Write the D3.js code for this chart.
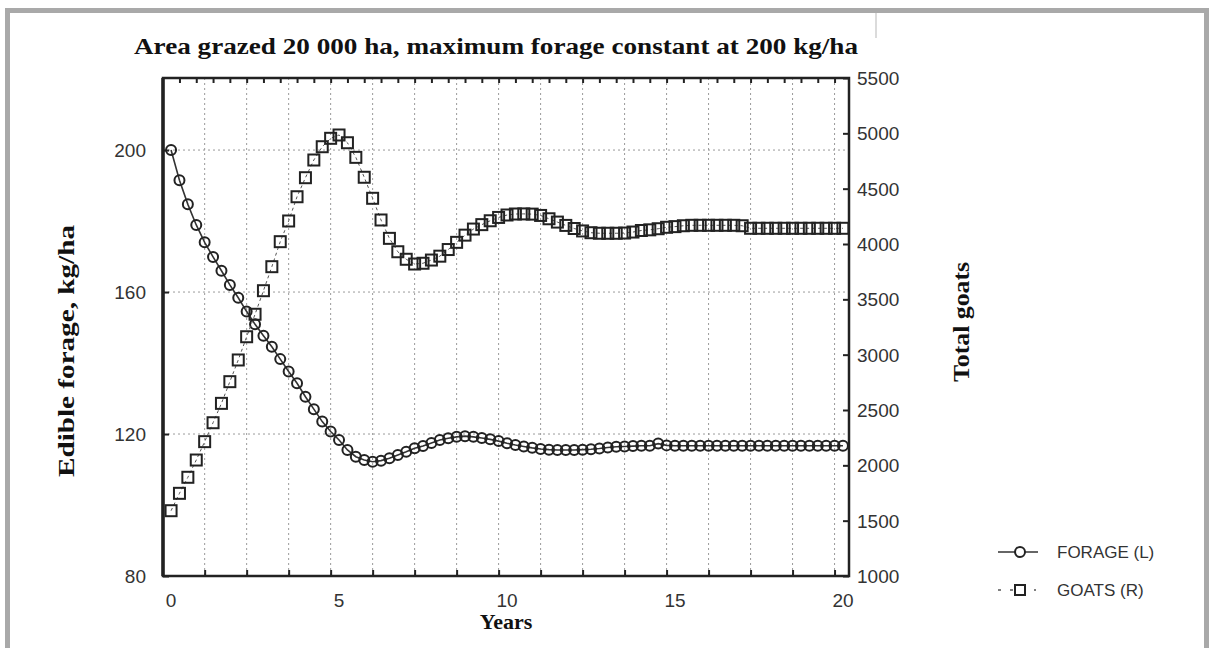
<!DOCTYPE html>
<html>
<head>
<meta charset="utf-8">
<script src="https://cdn.jsdelivr.net/npm/d3@7"></script>
<style>
  html, body { margin: 0; padding: 0; background: #fff; }
  svg { display: block; }
</style>
</head>
<body>
<svg id="chart" width="1212" height="648"></svg>
<script>
// ---------------- data ----------------
const years = [0,0.25,0.5,0.75,1,1.25,1.5,1.75,2,2.25,2.5,2.75,3,3.25,3.5,3.75,4,4.25,4.5,4.75,
  5,5.25,5.5,5.75,6,6.25,6.5,6.75,7,7.25,7.5,7.75,8,8.25,8.5,8.75,9,9.25,9.5,9.75,
  10,10.25,10.5,10.75,11,11.25,11.5,11.75,12,12.25,12.5,12.75,13,13.25,13.5,13.75,14,14.25,14.5,14.75,
  15,15.25,15.5,15.75,16,16.25,16.5,16.75,17,17.25,17.5,17.75,18,18.25,18.5,18.75,19,19.25,19.5,19.75,20];

const forage = [200.0,191.5,184.7,178.9,174.0,169.9,166.0,162.0,158.4,154.5,150.9,147.7,144.6,141.1,137.6,134.3,
  130.5,127.0,123.5,120.7,118.3,115.5,113.6,112.7,112.2,112.5,113.2,114.1,115.0,116.0,116.6,117.5,
  118.3,118.8,119.2,119.4,119.2,118.9,118.5,118.0,117.4,116.9,116.5,116.1,115.8,115.6,115.5,115.5,
  115.5,115.6,115.7,115.9,116.2,116.4,116.5,116.6,116.7,116.7,117.3,116.8,
  116.7,116.7,116.7,116.7,116.7,116.7,116.7,116.7,116.7,116.7,116.7,116.7,116.7,116.7,116.7,116.7,
  116.7,116.7,116.7,116.7,116.7];

const goats = [1590,1747,1892,2048,2214,2385,2560,2756,2952,3162,3365,3578,3795,4021,4208,4427,
  4599,4759,4879,4955,4985,4915,4783,4603,4413,4217,4051,3930,3862,3819,3826,3855,
  3890,3950,4015,4080,4135,4175,4210,4240,4262,4271,4272,4270,4258,4228,4198,4168,
  4140,4118,4102,4097,4097,4097,4099,4108,4122,4128,4138,4151,4157,4165,4169,4169,
  4169,4169,4169,4169,4165,4142,4142,4142,4142,4142,4142,4142,4142,4142,4142,4142,4142];

const xTickLabels = [0, 5, 10, 15, 20];
const xGridYears = [1,2.25,3.5,4.75,6,7.25,8.5,9.75,11,12.25,13.5,14.75,16,17.25,18.5,19.75];
const xMinorTop = [0.25,0.75,1.25,1.75,2.25,2.75,3.25,3.75,4.25,4.75,5.25,5.75,6.25,6.75,7.25,7.75,
  8.25,8.75,9.25,9.75,10.25,10.75,11.25,11.75,12.25,12.75,13.25,13.75,14.25,14.75,15.25,15.75,
  16.25,16.75,17.25,17.75,18.25,18.75,19.25,19.75];
const leftTicks = [80, 120, 160, 200];
const leftGrid = [120, 160, 200];
const rightTicks = [1000,1500,2000,2500,3000,3500,4000,4500,5000,5500];

const titleText = "Area grazed 20 000 ha, maximum forage constant at 200 kg/ha";
const xTitle = "Years";
const yLeftTitle = "Edible forage, kg/ha";
const yRightTitle = "Total goats";
const legendLabels = ["FORAGE (L)", "GOATS (R)"];

// ---------------- layout ----------------
const P = { left: 163, right: 849, top: 78, bottom: 576 };
const svg = d3.select("#chart");

const x = d3.scaleLinear().domain([-0.24, 20.18]).range([P.left, P.right]);
const yL = d3.scaleLinear().domain([80, 220.3]).range([P.bottom, P.top]);
const yR = d3.scaleLinear().domain([1000, 5500]).range([P.bottom, P.top]);

const sans = "'Liberation Sans', Arial, Helvetica, sans-serif";
const serif = "'Liberation Serif', 'Times New Roman', serif";
const ink = "#222";

// outer gray border
svg.append("rect").attr("x", 7.5).attr("y", 10.5).attr("width", 1199).attr("height", 660)
  .attr("fill", "none").attr("stroke", "#a9a9a9").attr("stroke-width", 5);
// small scan artifact line
svg.append("line").attr("x1", 876).attr("x2", 876).attr("y1", 13).attr("y2", 38)
  .attr("stroke", "#cfcfcf").attr("stroke-width", 1.5);

// grid
const grid = svg.append("g").attr("stroke", "#9a9a9a").attr("stroke-width", 1)
  .attr("stroke-dasharray", "2,3");
grid.selectAll(".vg").data(xGridYears).join("line")
  .attr("x1", d => x(d)).attr("x2", d => x(d)).attr("y1", P.top).attr("y2", P.bottom);
grid.selectAll(".hg").data(leftGrid).join("line")
  .attr("x1", P.left).attr("x2", P.right).attr("y1", d => yL(d)).attr("y2", d => yL(d));

// axes (ticks inward)
const gBottom = svg.append("g").attr("transform", `translate(0,${P.bottom})`)
  .call(d3.axisBottom(x).tickValues(xGridYears).tickSize(-6).tickFormat(""));
const gTop = svg.append("g").attr("transform", `translate(0,${P.top})`)
  .call(d3.axisTop(x).tickValues(xMinorTop).tickSize(-5).tickFormat(""));
const gLeft = svg.append("g").attr("transform", `translate(${P.left},0)`)
  .call(d3.axisLeft(yL).tickValues(leftTicks).tickSize(-6).tickFormat(""));
const gRight = svg.append("g").attr("transform", `translate(${P.right},0)`)
  .call(d3.axisRight(yR).tickValues(rightTicks).tickSize(-6).tickFormat(""));
[gBottom, gTop, gLeft, gRight].forEach(g => {
  g.select(".domain").remove();
  g.selectAll(".tick line").attr("stroke", ink).attr("stroke-width", 2);
});

// tick labels
const tickFont = 19;
svg.append("g").selectAll("text").data(xTickLabels).join("text")
  .attr("x", d => x(d)).attr("y", 607).attr("text-anchor", "middle")
  .attr("font-family", sans).attr("font-size", tickFont).attr("fill", "#333").text(d => d);
svg.append("g").selectAll("text").data(leftTicks).join("text")
  .attr("x", 146).attr("y", d => yL(d) + 7).attr("text-anchor", "end")
  .attr("font-family", sans).attr("font-size", tickFont).attr("fill", "#333").text(d => d);
svg.append("g").selectAll("text").data(rightTicks).join("text")
  .attr("x", 857).attr("y", d => yR(d) + 7).attr("text-anchor", "start")
  .attr("font-family", sans).attr("font-size", tickFont).attr("fill", "#333").text(d => d);

// frame
svg.append("rect").attr("x", P.left).attr("y", P.top)
  .attr("width", P.right - P.left).attr("height", P.bottom - P.top)
  .attr("fill", "none").attr("stroke", ink).attr("stroke-width", 2.5);
svg.append("line").attr("x1", P.left).attr("x2", P.left).attr("y1", P.top).attr("y2", P.bottom)
  .attr("stroke", ink).attr("stroke-width", 3.5);

// series: forage
const fData = years.map((t, i) => ({ t, v: forage[i] }));
const gData = years.map((t, i) => ({ t, v: goats[i] }));

svg.append("path").datum(fData)
  .attr("d", d3.line().x(d => x(d.t)).y(d => yL(d.v)))
  .attr("fill", "none").attr("stroke", "#333").attr("stroke-width", 1.6);
svg.append("g").selectAll("circle").data(fData).join("circle")
  .attr("cx", d => x(d.t)).attr("cy", d => yL(d.v)).attr("r", 5)
  .attr("fill", "none").attr("stroke", ink).attr("stroke-width", 2);

// series: goats
svg.append("path").datum(gData)
  .attr("d", d3.line().x(d => x(d.t)).y(d => yR(d.v)))
  .attr("fill", "none").attr("stroke", "#555").attr("stroke-width", 1)
  .attr("stroke-dasharray", "3,3");
const sq = 11;
svg.append("g").selectAll("rect").data(gData).join("rect")
  .attr("x", d => x(d.t) - sq / 2).attr("y", d => yR(d.v) - sq / 2)
  .attr("width", sq).attr("height", sq)
  .attr("fill", "none").attr("stroke", ink).attr("stroke-width", 2);

// titles
svg.append("text").attr("x", 496).attr("y", 54).attr("text-anchor", "middle")
  .attr("font-family", serif).attr("font-weight", "bold").attr("font-size", 24)
  .attr("textLength", 724).attr("lengthAdjust", "spacingAndGlyphs")
  .attr("fill", "#111").text(titleText);
svg.append("text").attr("x", 506).attr("y", 629).attr("text-anchor", "middle")
  .attr("font-family", serif).attr("font-weight", "bold").attr("font-size", 22)
  .attr("fill", "#111").text(xTitle);
svg.append("text").attr("transform", "translate(74,351) rotate(-90)").attr("text-anchor", "middle")
  .attr("font-family", serif).attr("font-weight", "bold").attr("font-size", 24)
  .attr("textLength", 252).attr("lengthAdjust", "spacingAndGlyphs")
  .attr("fill", "#111").text(yLeftTitle);
svg.append("text").attr("transform", "translate(969,322) rotate(-90)").attr("text-anchor", "middle")
  .attr("font-family", serif).attr("font-weight", "bold").attr("font-size", 24)
  .attr("textLength", 120).attr("lengthAdjust", "spacingAndGlyphs")
  .attr("fill", "#111").text(yRightTitle);

// legend
const leg = svg.append("g");
const ly = [552, 590];
// forage entry
leg.append("line").attr("x1", 998).attr("x2", 1038).attr("y1", ly[0]).attr("y2", ly[0])
  .attr("stroke", "#333").attr("stroke-width", 1.6);
leg.append("circle").attr("cx", 1020).attr("cy", ly[0]).attr("r", 5)
  .attr("fill", "#fff").attr("stroke", ink).attr("stroke-width", 2);
// goats entry
leg.append("line").attr("x1", 998).attr("x2", 1036).attr("y1", ly[1]).attr("y2", ly[1])
  .attr("stroke", "#555").attr("stroke-width", 1.4).attr("stroke-dasharray", "3,9");
leg.append("rect").attr("x", 1020 - 5).attr("y", ly[1] - 5).attr("width", 10).attr("height", 10)
  .attr("fill", "#fff").attr("stroke", ink).attr("stroke-width", 2);
leg.selectAll(".lt").data(legendLabels).join("text")
  .attr("x", 1057).attr("y", (d, i) => ly[i] + 6)
  .attr("font-family", sans).attr("font-size", 17).attr("fill", "#333").text(d => d);
</script>
</body>
</html>
